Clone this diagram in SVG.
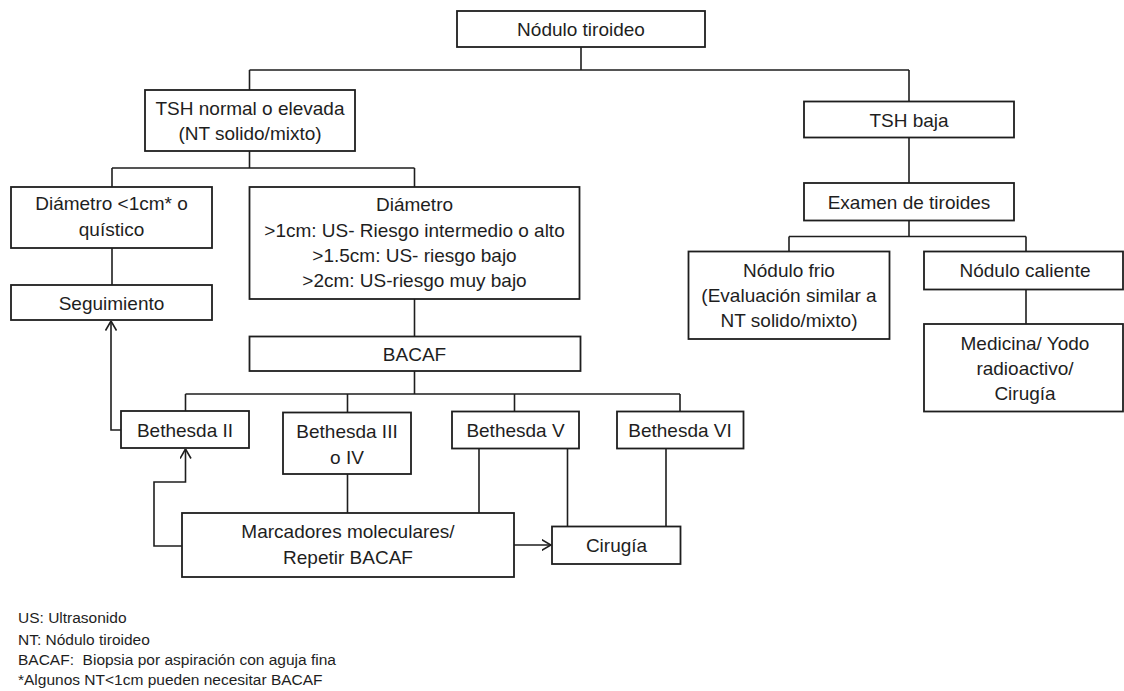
<svg xmlns="http://www.w3.org/2000/svg" width="1124" height="691" viewBox="0 0 1124 691">
<style>
.box{fill:#fff;stroke:#1e1e1e;stroke-width:1.8}
.t{font-family:"Liberation Sans",Arial,sans-serif;font-size:19px;fill:#1e1e1e;text-anchor:middle}
.lg{font-family:"Liberation Sans",Arial,sans-serif;font-size:15.5px;fill:#1e1e1e}
.c{fill:none;stroke:#1e1e1e;stroke-width:1.6}
</style>
<defs>
<marker id="ah" viewBox="0 0 10 12" refX="9.5" refY="6" markerWidth="10" markerHeight="12" markerUnits="userSpaceOnUse" orient="auto">
<path d="M0,0.5 L9.5,6 L0,11.5" fill="none" stroke="#1e1e1e" stroke-width="1.6"/>
</marker>
</defs>
<rect width="1124" height="691" fill="#fff"/>
<g id="connectors">
<path class="c" d="M581,47 V70 M249.5,70 H909 M249.5,70 V90 M909,70 V101.5"/>
<path class="c" d="M249.5,151 V168 M112,168 H414.5 M112,168 V187 M414.5,168 V187"/>
<path class="c" d="M112,248 V285"/>
<path class="c" d="M414.5,299 V336.5"/>
<path class="c" d="M414.5,371 V394 M185.5,394 H680 M185.5,394 V411 M347.5,394 V412.5 M514.5,394 V411.5 M680,394 V411.5"/>
<path class="c" d="M347.5,474 V513 M479,448.5 V513 M567.5,448.5 V526.5 M666,448.5 V526.5"/>
<path class="c" d="M121,430 H111 V321" marker-end="url(#ah)"/>
<path class="c" d="M182,546 H154 V482 H185.5 V449" marker-end="url(#ah)"/>
<path class="c" d="M514,545 H551" marker-end="url(#ah)"/>
<path class="c" d="M909,137.5 V183 M909,220.5 V236.5 M789,236.5 H1026 M789,236.5 V251.5 M1026,236.5 V251.5 M1026,289.5 V324"/>
</g>
<g id="n_root"><rect class="box" x="457" y="11" width="248" height="36"/><text class="t" x="581" y="36">Nódulo tiroideo</text></g>
<g id="n_tshn"><rect class="box" x="145" y="90" width="210" height="61"/><text class="t" x="250" y="115">TSH normal o elevada</text><text class="t" x="250" y="140">(NT solido/mixto)</text></g>
<g id="n_dmin"><rect class="box" x="11" y="187" width="201" height="61"/><text class="t" x="111.5" y="210">Diámetro &lt;1cm* o</text><text class="t" x="111.5" y="236">quístico</text></g>
<g id="n_dmax"><rect class="box" x="249.5" y="187" width="330" height="112"/><text class="t" x="414.5" y="211">Diámetro</text><text class="t" x="414.5" y="237">&gt;1cm: US- Riesgo intermedio o alto</text><text class="t" x="414.5" y="262">&gt;1.5cm: US- riesgo bajo</text><text class="t" x="414.5" y="287">&gt;2cm: US-riesgo muy bajo</text></g>
<g id="n_seg"><rect class="box" x="11" y="285" width="201" height="35"/><text class="t" x="111.5" y="310">Seguimiento</text></g>
<g id="n_bacaf"><rect class="box" x="249.5" y="336.5" width="331" height="34.5"/><text class="t" x="414.5" y="360.5">BACAF</text></g>
<g id="n_b2"><rect class="box" x="121" y="411" width="128" height="37"/><text class="t" x="185" y="436.5">Bethesda II</text></g>
<g id="n_b34"><rect class="box" x="283" y="412.5" width="128" height="61.5"/><text class="t" x="347" y="438">Bethesda III</text><text class="t" x="347" y="464">o IV</text></g>
<g id="n_b5"><rect class="box" x="452" y="411.5" width="127" height="37"/><text class="t" x="515.5" y="437">Bethesda V</text></g>
<g id="n_b6"><rect class="box" x="617" y="411.5" width="126.5" height="37"/><text class="t" x="680" y="437">Bethesda VI</text></g>
<g id="n_marc"><rect class="box" x="182" y="513" width="332" height="64"/><text class="t" x="348" y="538">Marcadores moleculares/</text><text class="t" x="348" y="564">Repetir BACAF</text></g>
<g id="n_cir"><rect class="box" x="552" y="526.5" width="128.5" height="37.5"/><text class="t" x="616.5" y="552">Cirugía</text></g>
<g id="n_tshb"><rect class="box" x="804" y="101.5" width="210" height="36"/><text class="t" x="909" y="126.5">TSH baja</text></g>
<g id="n_exam"><rect class="box" x="804" y="183" width="210" height="37.5"/><text class="t" x="909" y="209">Examen de tiroides</text></g>
<g id="n_frio"><rect class="box" x="688.5" y="251.5" width="201" height="87.5"/><text class="t" x="789" y="277">Nódulo frio</text><text class="t" x="789" y="302">(Evaluación similar a</text><text class="t" x="789" y="327">NT solido/mixto)</text></g>
<g id="n_cal"><rect class="box" x="924" y="251.5" width="199" height="38"/><text class="t" x="1025" y="277">Nódulo caliente</text></g>
<g id="n_med"><rect class="box" x="924" y="324" width="199" height="87.5"/><text class="t" x="1025" y="350">Medicina/ Yodo</text><text class="t" x="1025" y="375">radioactivo/</text><text class="t" x="1025" y="400">Cirugía</text></g>
<g id="legend">
<text class="lg" x="18" y="623">US: Ultrasonido</text>
<text class="lg" x="18" y="645">NT: Nódulo tiroideo</text>
<text class="lg" x="18" y="665" xml:space="preserve">BACAF:  Biopsia por aspiración con aguja fina</text>
<text class="lg" x="18" y="685">*Algunos NT&lt;1cm pueden necesitar BACAF</text>
</g>
</svg>
